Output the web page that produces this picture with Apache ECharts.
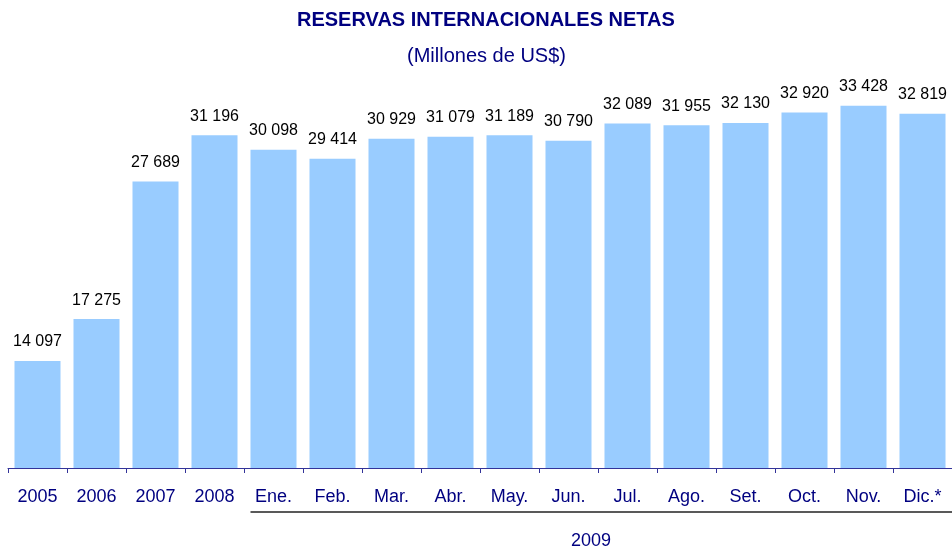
<!DOCTYPE html>
<html>
<head>
<meta charset="utf-8">
<script src="https://cdn.jsdelivr.net/npm/echarts@6/dist/echarts.min.js"></script>
<style>
  html, body { margin: 0; padding: 0; background: #fff; }
  #main { width: 952px; height: 550px; }
</style>
</head>
<body>
<div id="main"></div>
<script>
// categorias: años y meses de 2009
var categorias = ['2005', '2006', '2007', '2008', 'Ene.', 'Feb.', 'Mar.', 'Abr.', 'May.', 'Jun.', 'Jul.', 'Ago.', 'Set.', 'Oct.', 'Nov.', 'Dic.*'];
// reservas internacionales netas, millones de US$
var reservas = [14097, 17275, 27689, 31196, 30098, 29414, 30929, 31079, 31189, 30790, 32089, 31955, 32130, 32920, 33428, 32819];
var anioMeses = '2009';

var myChart = echarts.init(document.getElementById('main'));

function fmt(v) {
    return String(v).replace(/\B(?=(\d{3})+(?!\d))/g, ' ');
}

var option = {
    animation: false,
    title: [{
        text: 'RESERVAS INTERNACIONALES NETAS',
        left: 292,
        top: 5,
        textStyle: { fontFamily: 'Liberation Sans', fontSize: 20, fontWeight: 'bold', color: '#000080' }
    }, {
        text: '(Millones de US$)',
        left: 402,
        top: 41,
        textStyle: { fontFamily: 'Liberation Sans', fontSize: 20, fontWeight: 'normal', color: '#000080' }
    }],
    grid: { left: 8, right: -3, top: 19, bottom: 82 },
    xAxis: {
        type: 'category',
        data: categorias,
        axisLine: { lineStyle: { color: '#333399', width: 1 } },
        axisTick: { show: true, alignWithLabel: false, length: 5, inside: false, lineStyle: { color: '#333399' } },
        axisLabel: { margin: 20, fontFamily: 'Liberation Sans', fontSize: 18, color: '#000080', interval: 0 }
    },
    yAxis: {
        type: 'value',
        min: 6000,
        max: 40000,
        show: false,
        splitLine: { show: false }
    },
    series: [{
        type: 'bar',
        data: reservas,
        barWidth: '78%',
        itemStyle: { color: '#99CCFF' },
        label: {
            show: true,
            position: 'top',
            distance: 11,
            fontFamily: 'Liberation Sans',
            fontSize: 16,
            color: '#000000',
            formatter: function (p) { return fmt(p.value); }
        }
    }]
};
myChart.setOption(option);

// linea bajo los meses de 2009 y etiqueta del año
var xIni = myChart.convertToPixel({ xAxisIndex: 0 }, 'Ene.') - 23;
var xJun = myChart.convertToPixel({ xAxisIndex: 0 }, 'Jun.');
var xJul = myChart.convertToPixel({ xAxisIndex: 0 }, 'Jul.');
myChart.setOption({
    graphic: [{
        type: 'line',
        shape: { x1: xIni, y1: 512, x2: 952, y2: 512 },
        style: { stroke: '#222222', lineWidth: 1.5 }
    }, {
        type: 'text',
        x: (xJun + xJul) / 2 - 7,
        y: 541,
        style: {
            text: anioMeses,
            align: 'center',
            verticalAlign: 'middle',
            font: '18px "Liberation Sans"',
            fill: '#000080'
        }
    }]
});
</script>
</body>
</html>
